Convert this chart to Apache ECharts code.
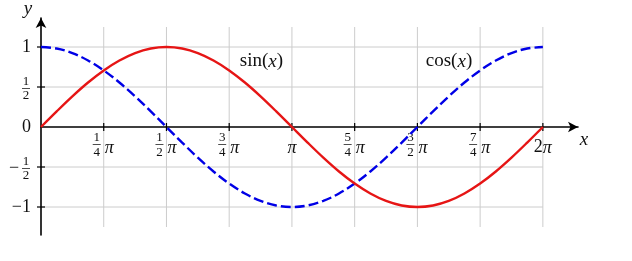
<!DOCTYPE html>
<html>
<head>
<meta charset="utf-8">
<script src="https://cdn.jsdelivr.net/npm/echarts@6/dist/echarts.min.js"></script>
<style>
html,body{margin:0;padding:0;background:#fff;}
#chart{width:632px;height:261px;}
</style>
</head>
<body>
<div id="chart"></div>
<script>
// x positions in units of pi
const xPi = [0, 0.0625, 0.125, 0.1875, 0.25, 0.3125, 0.375, 0.4375, 0.5, 0.5625, 0.625, 0.6875, 0.75, 0.8125, 0.875, 0.9375,
  1, 1.0625, 1.125, 1.1875, 1.25, 1.3125, 1.375, 1.4375, 1.5, 1.5625, 1.625, 1.6875, 1.75, 1.8125, 1.875, 1.9375, 2];
const sinValues = [0, 0.195, 0.383, 0.556, 0.707, 0.831, 0.924, 0.981, 1.000, 0.981, 0.924, 0.831, 0.707, 0.556, 0.383, 0.195,
  0, -0.195, -0.383, -0.556, -0.707, -0.831, -0.924, -0.981, -1.000, -0.981, -0.924, -0.831, -0.707, -0.556, -0.383, -0.195, 0];
const cosValues = [1.000, 0.981, 0.924, 0.831, 0.707, 0.556, 0.383, 0.195, 0, -0.195, -0.383, -0.556, -0.707, -0.831, -0.924, -0.981,
  -1.000, -0.981, -0.924, -0.831, -0.707, -0.556, -0.383, -0.195, 0, 0.195, 0.383, 0.556, 0.707, 0.831, 0.924, 0.981, 1.000];

const xTickPi = [0.25, 0.5, 0.75, 1, 1.25, 1.5, 1.75, 2];
const xTickLabels = ['1/4π', '1/2π', '3/4π', 'π', '5/4π', '3/2π', '7/4π', '2π'];
const yTickValues = [-1, -0.5, 0.5, 1];
const yLabelValues = [-1, -0.5, 0, 0.5, 1];
const yLabels = ['−1', '−1/2', '0', '1/2', '1'];
const gridXPi = [0.25, 0.5, 0.75, 1, 1.25, 1.5, 1.75, 2];
const gridY = [-1, -0.5, 0.5, 1];
const gridXRange = [0, 2];
const gridYRange = [-1.25, 1.25];

const FONT = '"Liberation Serif", "DejaVu Serif", serif';
const BIG = '18px ' + FONT;
const SMALL = '13px ' + FONT;
const PI = 'italic 18px ' + FONT;

const chart = echarts.init(document.getElementById('chart'), null, {renderer: 'canvas'});

function txt(x, y, s, font, align) {
  return {type: 'text', x: x, y: y, style: {text: s, font: font, fill: '#111', align: align || 'center', verticalAlign: 'middle'}};
}

function renderXTick(params, api) {
  const i = params.dataIndex;
  const p = api.coord([api.value(0), 0]);
  const px = p[0], py = p[1];
  const lab = xTickLabels[i];
  const ch = [{type: 'line', shape: {x1: px, y1: py - 4, x2: px, y2: py + 4}, style: {stroke: '#000', lineWidth: 1.2}}];
  const m = lab.match(/^(\d)\/(\d)π$/);
  if (m) {
    ch.push(txt(px - 7, py + 11, m[1], SMALL));
    ch.push({type: 'line', shape: {x1: px - 11, y1: py + 17.5, x2: px - 3, y2: py + 17.5}, style: {stroke: '#000', lineWidth: 0.7}});
    ch.push(txt(px - 7, py + 26, m[2], SMALL));
    ch.push(txt(px + 5.5, py + 21, 'π', PI));
  } else if (lab === 'π') {
    ch.push(txt(px, py + 21, 'π', PI));
  } else {
    const n = lab.replace('π', '');
    ch.push(txt(px - 4.5, py + 20, n, BIG));
    ch.push(txt(px + 4.5, py + 21, 'π', PI));
  }
  return {type: 'group', children: ch};
}

function renderYLabel(params, api) {
  const i = params.dataIndex;
  const v = api.value(1);
  const p = api.coord([0, v]);
  const px = p[0], py = p[1];
  const lab = yLabels[i];
  const ch = [];
  if (yTickValues.indexOf(v) >= 0) {
    ch.push({type: 'line', shape: {x1: px - 4, y1: py, x2: px + 4, y2: py}, style: {stroke: '#000', lineWidth: 1.2}});
  }
  const m = lab.match(/^(−?)(\d)\/(\d)$/);
  if (m) {
    const cx = px - 15;
    ch.push(txt(cx, py - 5, m[2], SMALL));
    ch.push({type: 'line', shape: {x1: cx - 4, y1: py + 1.5, x2: cx + 4, y2: py + 1.5}, style: {stroke: '#000', lineWidth: 0.7}});
    ch.push(txt(cx, py + 9, m[3], SMALL));
    if (m[1]) ch.push(txt(cx - 12, py + 1, '−', BIG));
  } else {
    ch.push(txt(px - 10, py, lab, BIG, 'right'));
  }
  return {type: 'group', children: ch};
}

function renderVGrid(params, api) {
  const a = api.coord([api.value(0), gridYRange[0]]);
  const b = api.coord([api.value(0), gridYRange[1]]);
  return {type: 'line', shape: {x1: a[0], y1: a[1], x2: b[0], y2: b[1]}, style: {stroke: '#cccccc', lineWidth: 1}};
}
function renderHGrid(params, api) {
  const a = api.coord([gridXRange[0], api.value(1)]);
  const b = api.coord([gridXRange[1], api.value(1)]);
  return {type: 'line', shape: {x1: a[0], y1: a[1], x2: b[0], y2: b[1]}, style: {stroke: '#cccccc', lineWidth: 1}};
}

const axisLine = {show: true, onZero: true, symbol: ['none', 'arrow'], symbolSize: [8, 10], lineStyle: {color: '#000', width: 1.6}};

const option = {
  animation: false,
  backgroundColor: '#fff',
  grid: {left: 41, right: 54, top: 18, bottom: 26, containLabel: false},
  xAxis: {
    type: 'value', min: 0, max: 2.14, z: 3,
    axisLine: axisLine, axisTick: {show: false}, axisLabel: {show: false}, splitLine: {show: false}
  },
  yAxis: {
    type: 'value', min: -1.35, max: 1.3625, z: 3,
    axisLine: axisLine, axisTick: {show: false}, axisLabel: {show: false}, splitLine: {show: false}
  },
  graphic: [
    {type: 'text', x: 28, y: 9, style: {text: 'y', font: 'italic 19px ' + FONT, fill: '#111', align: 'center', verticalAlign: 'middle'}},
    {type: 'text', x: 584, y: 140, style: {text: 'x', font: 'italic 19px ' + FONT, fill: '#111', align: 'center', verticalAlign: 'middle'}},
    {type: 'text', x: 261.5, y: 61.5, style: {text: '{r|sin(}{i|x}{r|)}', align: 'center', verticalAlign: 'middle',
      rich: {r: {font: '19px ' + FONT, fill: '#111'}, i: {font: 'italic 19px ' + FONT, fill: '#111'}}}},
    {type: 'text', x: 449, y: 61.5, style: {text: '{r|cos(}{i|x}{r|)}', align: 'center', verticalAlign: 'middle',
      rich: {r: {font: '19px ' + FONT, fill: '#111'}, i: {font: 'italic 19px ' + FONT, fill: '#111'}}}}
  ],
  series: [
    {type: 'custom', z: 1, silent: true, renderItem: renderVGrid, data: gridXPi.map(v => [v, 0]), clip: false},
    {type: 'custom', z: 1, silent: true, renderItem: renderHGrid, data: gridY.map(v => [0, v]), clip: false},
    {type: 'custom', z: 5, silent: true, renderItem: renderXTick, data: xTickPi.map(v => [v, 0]), clip: false},
    {type: 'custom', z: 5, silent: true, renderItem: renderYLabel, data: yLabelValues.map(v => [0, v]), clip: false},
    {
      name: 'cos(x)', type: 'line', z: 6, smooth: 0.35, symbol: 'none', clip: false,
      data: xPi.map((x, i) => [x, cosValues[i]]),
      lineStyle: {color: '#0000e6', width: 2.4, type: [10, 4], cap: 'butt'}
    },
    {
      name: 'sin(x)', type: 'line', z: 7, smooth: 0.35, symbol: 'none', clip: false,
      data: xPi.map((x, i) => [x, sinValues[i]]),
      lineStyle: {color: '#e61515', width: 2.4}
    }
  ]
};
chart.setOption(option);
</script>
</body>
</html>
